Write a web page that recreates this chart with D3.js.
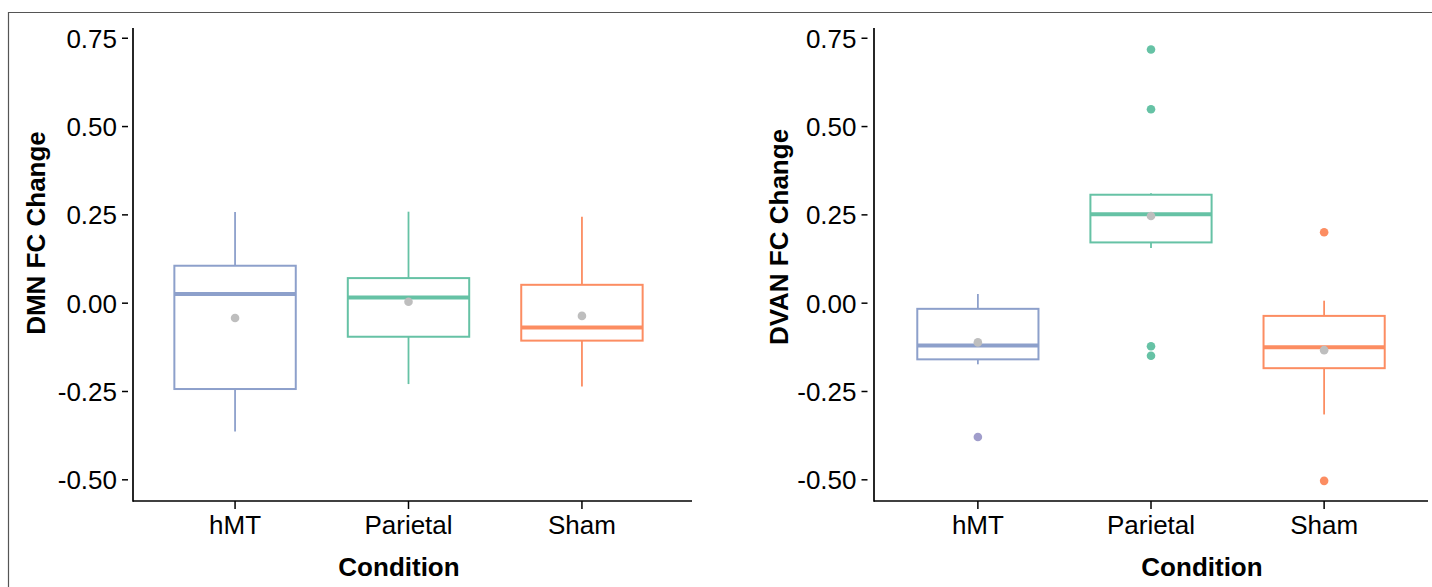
<!DOCTYPE html>
<html>
<head>
<meta charset="utf-8">
<script src="https://cdn.jsdelivr.net/npm/d3@7"></script>
<style>
  body { margin: 0; background: #fff; }
  text { font-family: "Liberation Sans", Arial, Helvetica, sans-serif; fill: #000; }
</style>
</head>
<body>
<div id="chart"></div>
<script>
// conditions on the x axis
var conditions = ["hMT", "Parietal", "Sham"];
var yTicks = [0.75, 0.50, 0.25, 0.00, -0.25, -0.50];

// DMN panel (left)
var dmnLower  = [-0.363, -0.229, -0.236];
var dmnQ1     = [-0.243, -0.095, -0.106];
var dmnMedian = [ 0.026,  0.016, -0.069];
var dmnQ3     = [ 0.106,  0.071,  0.052];
var dmnUpper  = [ 0.258,  0.259,  0.245];
var dmnMean   = [-0.042,  0.004, -0.036];
var dmnOutliers = [[], [], []];

// DVAN panel (right)
var dvanLower  = [-0.173, 0.156, -0.315];
var dvanQ1     = [-0.159, 0.172, -0.184];
var dvanMedian = [-0.120, 0.252, -0.125];
var dvanQ3     = [-0.016, 0.307, -0.036];
var dvanUpper  = [ 0.026, 0.311,  0.007];
var dvanMean   = [-0.111, 0.247, -0.133];
var dvanOutliers = [[-0.379], [0.718, 0.549, -0.122, -0.149], [0.201, -0.503]];

var boxColors = ["#8DA0CB", "#66C2A5", "#FC8D62"];
var outlierColors = ["#A09DCB", "#66C2A5", "#FC8D62"];

var W = 1432, H = 587;

var svg = d3.select("#chart").append("svg")
    .attr("width", W)
    .attr("height", H);

// outer frame (top and left edges only visible)
svg.append("path")
    .attr("d", "M8.5," + H + "V12.5H" + W)
    .attr("fill", "none")
    .attr("stroke", "#555")
    .attr("stroke-width", 1.2);

var y = d3.scaleLinear().domain([-0.56, 0.779]).range([501, 28]);

function buildStats(lower, q1, med, q3, upper, mean, outliers) {
    return conditions.map(function(c, i) {
	return {cond: c, i: i, lower: lower[i], q1: q1[i], median: med[i],
		q3: q3[i], upper: upper[i], mean: mean[i], outliers: outliers[i]};
    });
}

function drawPanel(opt) {
    var g = svg.append("g");
    var x = d3.scalePoint().domain(conditions).range(opt.xRange).padding(0.6);
    var boxW = x.step() * 0.7;

    // axes lines
    g.append("line")
	.attr("x1", opt.axisX).attr("x2", opt.axisX)
	.attr("y1", y.range()[1]).attr("y2", y.range()[0] + 0.8)
	.attr("stroke", "#000").attr("stroke-width", 1.7);
    g.append("line")
	.attr("x1", opt.axisX).attr("x2", opt.axisEnd)
	.attr("y1", y.range()[0]).attr("y2", y.range()[0])
	.attr("stroke", "#000").attr("stroke-width", 1.7);

    // y ticks
    var yt = g.selectAll(".ytick").data(yTicks).enter().append("g")
	.attr("transform", function(d) { return "translate(0," + y(d) + ")"; });
    yt.append("line")
	.attr("x1", opt.axisX - opt.tickGap - 6).attr("x2", opt.axisX - opt.tickGap)
	.attr("stroke", "#000").attr("stroke-width", 1.5);
    yt.append("text")
	.attr("x", opt.axisX - opt.tickGap - 11)
	.attr("dy", "0.36em")
	.attr("text-anchor", "end")
	.style("font-size", "26px")
	.text(function(d) { return d.toFixed(2); });

    // x ticks
    var xt = g.selectAll(".xtick").data(conditions).enter().append("g")
	.attr("transform", function(d) { return "translate(" + x(d) + ",0)"; });
    xt.append("line")
	.attr("y1", y.range()[0]).attr("y2", y.range()[0] + 8)
	.attr("stroke", "#000").attr("stroke-width", 1.5);
    xt.append("text")
	.attr("y", 534)
	.attr("text-anchor", "middle")
	.style("font-size", "26px")
	.text(function(d) { return d; });

    // axis titles
    g.append("text")
	.attr("transform", "translate(" + opt.yTitleX + "," + opt.yTitleY + ") rotate(-90)")
	.attr("text-anchor", "middle")
	.style("font-size", "26px")
	.style("font-weight", "bold")
	.text(opt.yTitle);
    g.append("text")
	.attr("x", opt.xTitleX)
	.attr("y", 576)
	.attr("text-anchor", "middle")
	.style("font-size", "26px")
	.style("font-weight", "bold")
	.text("Condition");

    var boxes = g.selectAll(".box").data(opt.stats).enter().append("g")
	.attr("class", "box");

    // whiskers
    boxes.append("line")
	.attr("x1", function(d) { return x(d.cond); })
	.attr("x2", function(d) { return x(d.cond); })
	.attr("y1", function(d) { return y(d.upper); })
	.attr("y2", function(d) { return y(d.q3); })
	.attr("stroke", function(d) { return boxColors[d.i]; })
	.attr("stroke-width", 1.8);
    boxes.append("line")
	.attr("x1", function(d) { return x(d.cond); })
	.attr("x2", function(d) { return x(d.cond); })
	.attr("y1", function(d) { return y(d.q1); })
	.attr("y2", function(d) { return y(d.lower); })
	.attr("stroke", function(d) { return boxColors[d.i]; })
	.attr("stroke-width", 1.8);

    boxes.append("rect")
	.attr("x", function(d) { return x(d.cond) - boxW / 2; })
	.attr("width", boxW)
	.attr("y", function(d) { return y(d.q3); })
	.attr("height", function(d) { return y(d.q1) - y(d.q3); })
	.attr("fill", "none")
	.attr("stroke", function(d) { return boxColors[d.i]; })
	.attr("stroke-width", 2);

    boxes.append("line")
	.attr("x1", function(d) { return x(d.cond) - boxW / 2; })
	.attr("x2", function(d) { return x(d.cond) + boxW / 2; })
	.attr("y1", function(d) { return y(d.median); })
	.attr("y2", function(d) { return y(d.median); })
	.attr("stroke", function(d) { return boxColors[d.i]; })
	.attr("stroke-width", 4);

    // outliers
    boxes.selectAll(".out")
	.data(function(d) { return d.outliers.map(function(v) { return {v: v, cond: d.cond, i: d.i}; }); })
	.enter().append("circle")
	.attr("cx", function(d) { return x(d.cond); })
	.attr("cy", function(d) { return y(d.v); })
	.attr("r", 4.3)
	.attr("fill", function(d) { return outlierColors[d.i]; });

    // means
    boxes.append("circle")
	.attr("cx", function(d) { return x(d.cond); })
	.attr("cy", function(d) { return y(d.mean); })
	.attr("r", 4.3)
	.attr("fill", "#BEBEBE");
}

drawPanel({
    stats: buildStats(dmnLower, dmnQ1, dmnMedian, dmnQ3, dmnUpper, dmnMean, dmnOutliers),
    xRange: [131, 686], axisX: 133, axisEnd: 692, tickGap: 5,
    yTitle: "DMN FC Change", yTitleX: 45, yTitleY: 233, xTitleX: 399
});

drawPanel({
    stats: buildStats(dvanLower, dvanQ1, dvanMedian, dvanQ3, dvanUpper, dvanMean, dvanOutliers),
    xRange: [874, 1428], axisX: 874, axisEnd: 1428, tickGap: 6.5,
    yTitle: "DVAN FC Change", yTitleX: 788, yTitleY: 237, xTitleX: 1202
});
</script>
</body>
</html>
